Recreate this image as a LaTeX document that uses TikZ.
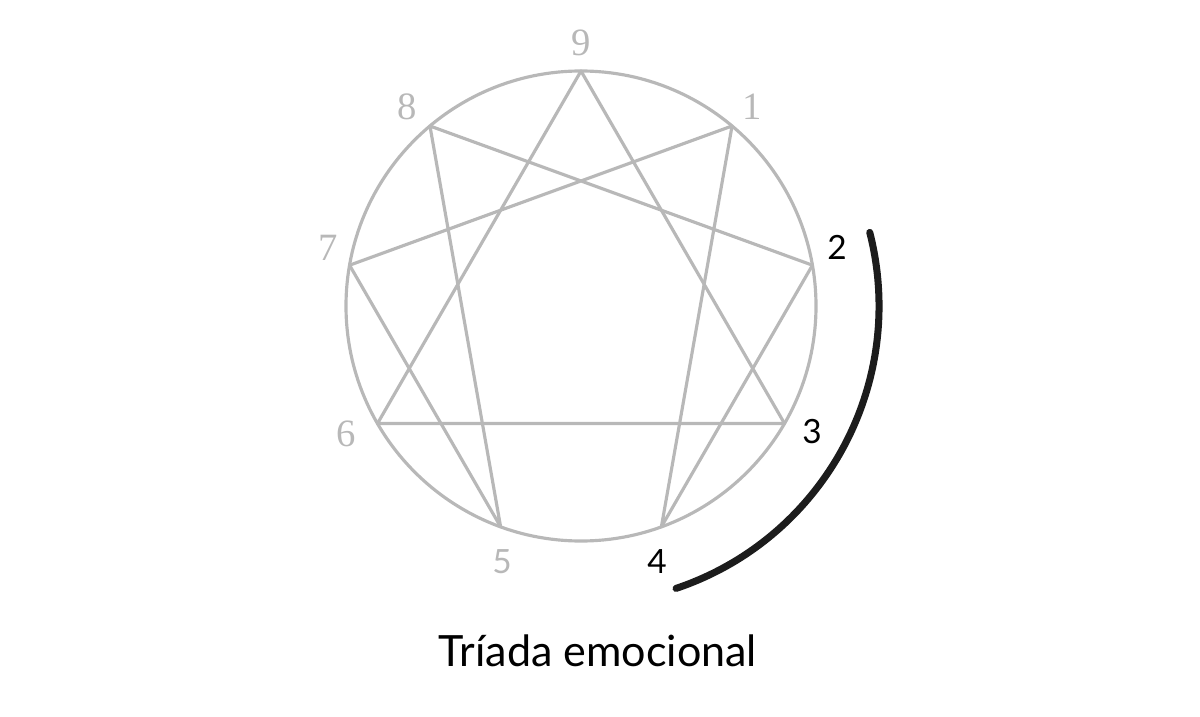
\documentclass[tikz,border=0pt]{standalone}
\usepackage{fontspec}
\newfontfamily\sansnum{Lato}
\newfontfamily\serifnumfont{Liberation Serif}
\usetikzlibrary{positioning}
\definecolor{linegray}{RGB}{184,184,184}
\definecolor{arcblack}{RGB}{28,28,28}

\begin{document}
\begin{tikzpicture}[line join=round,
				   figure/.style={draw=linegray, line width=1.8pt},
				   serifnum/.style={text=linegray, font=\serifnumfont\fontsize{22}{24}\selectfont},
				   sansgray/.style={text=linegray, font=\sansnum\fontsize{19}{22}\selectfont},
				   sansblack/.style={text=black, font=\sansnum\fontsize{19}{22}\selectfont},
				   triad/.style={draw=arcblack, line width=4pt, line cap=round}]
\useasboundingbox (-11.62,-8.2) rectangle (12.38,6.12);

% the circle and its nine points
\node[circle, minimum size=9.4cm, inner sep=0pt, figure] (C) at (0,0) {};
\foreach \n/\a in {9/90, 1/50, 2/10, 3/-30, 4/-70, 5/-110, 6/-150, 7/170, 8/130}
	\coordinate (p\n) at (\a:4.7);

% triangle and hexad
\draw[figure] (p9) -- (p3) -- (p6) -- cycle;
\draw[figure] (p1) -- (p4) -- (p2) -- (p8) -- (p5) -- (p7) -- cycle;

% numbers
\node[serifnum] (n9) at (0,5.26) {9};
\node[serifnum] (n1) at (3.42,3.98) {1};
\node[sansblack] (n2) at (5.12,1.18) {2};
\node[sansblack] (n3) at (4.62,-2.52) {3};
\node[sansblack] (n4) at (1.52,-5.12) {4};
\node[sansgray] (n5) at (-1.58,-5.12) {5};
\node[serifnum] (n6) at (-4.7,-2.56) {6};
\node[serifnum] (n7) at (-5.06,1.16) {7};
\node[serifnum] (n8) at (-3.48,3.98) {8};

% the emotional triad
\coordinate (A) at (14.3:5.96);
\draw[triad] (A) arc[start angle=14.3, end angle=-71.4, radius=5.96];

\node[font=\sansnum\fontsize{24.5}{28}\selectfont] (T) at (0.34,-6.9) {Tríada emocional};
\end{tikzpicture}
\end{document}
